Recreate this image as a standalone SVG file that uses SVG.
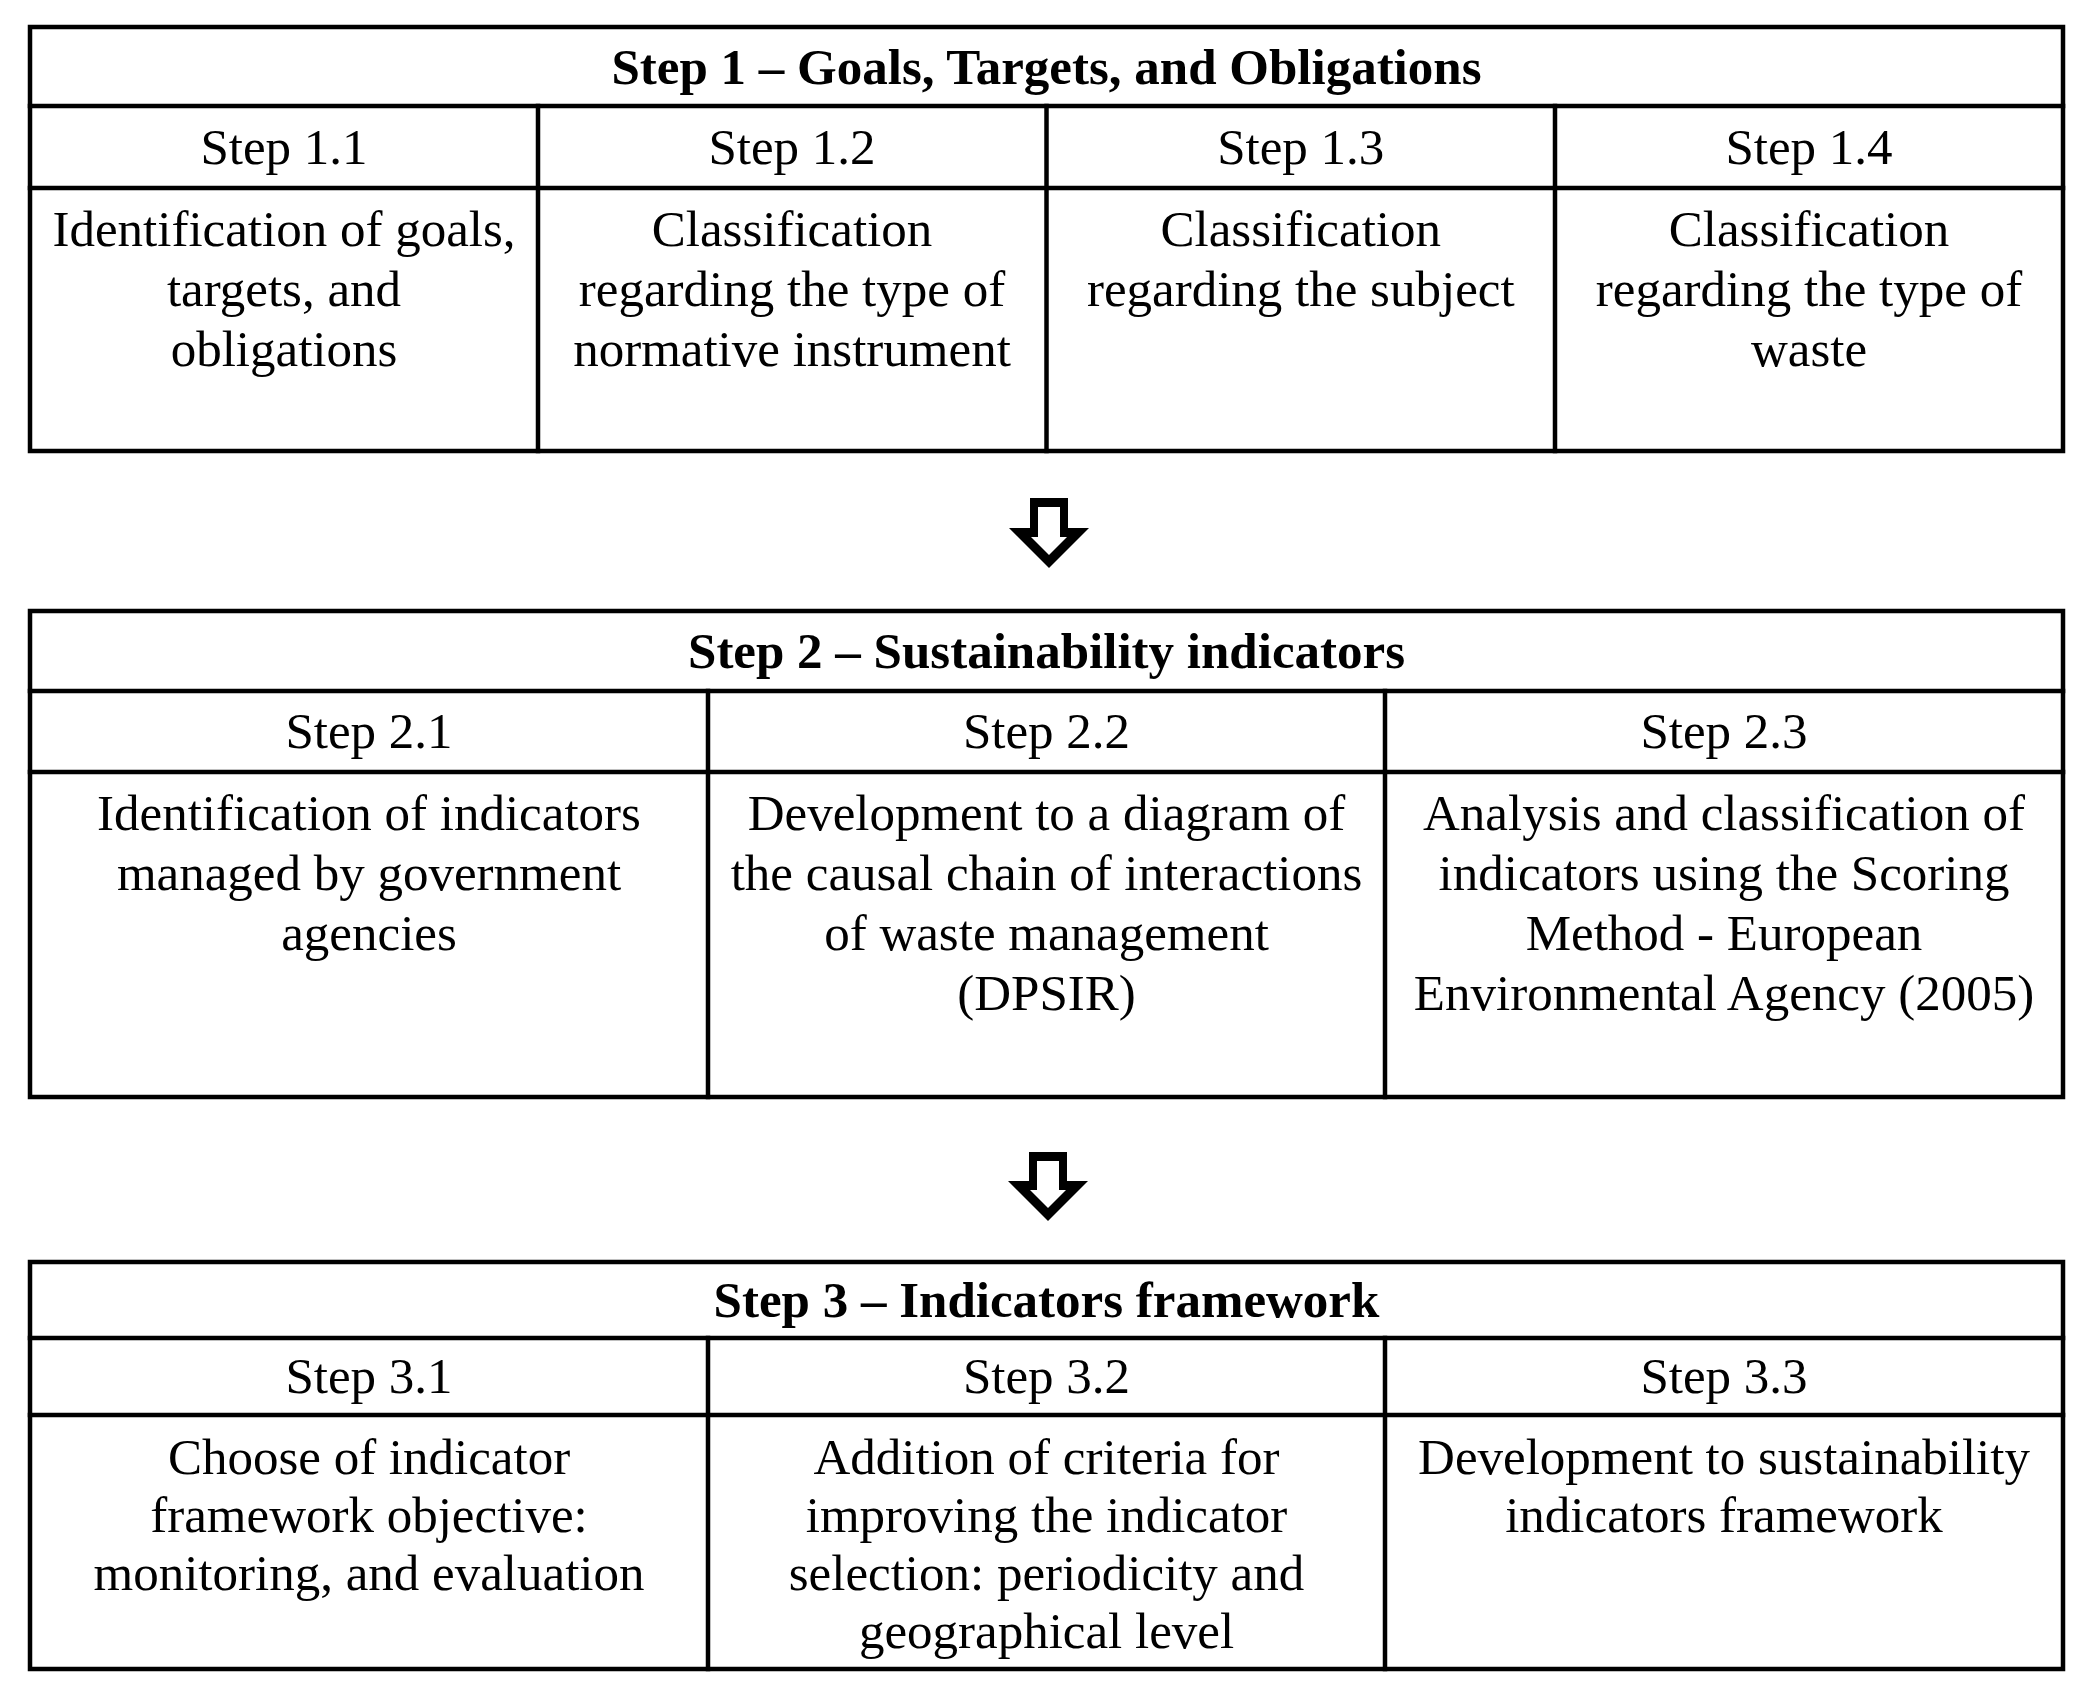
<svg xmlns="http://www.w3.org/2000/svg" width="2092" height="1704" viewBox="0 0 2092 1704">
<style>
.ln{stroke:#000;stroke-width:4.5;fill:none;stroke-linecap:square}
.t{font-family:"Liberation Serif","Times New Roman",serif;font-size:51px;fill:#000;text-anchor:middle}
.b{font-weight:bold}
.arrow{fill:#000;fill-rule:evenodd}
</style>
<rect width="2092" height="1704" fill="#fff"/>

<g id="step1">
  <rect class="ln" x="30" y="27" width="2033" height="424"/>
  <line class="ln" x1="30" y1="106" x2="2063" y2="106"/>
  <line class="ln" x1="30" y1="188" x2="2063" y2="188"/>
  <line class="ln" x1="538" y1="106" x2="538" y2="451"/>
  <line class="ln" x1="1046.5" y1="106" x2="1046.5" y2="451"/>
  <line class="ln" x1="1555" y1="106" x2="1555" y2="451"/>
  <text class="t b" x="1046.5" y="84">Step 1 – Goals, Targets, and Obligations</text>
</g>
<g id="step1-1">
  <text class="t" x="284" y="164">Step 1.1</text>
  <text class="t" x="284" y="246">Identification of goals,</text>
  <text class="t" x="284" y="306">targets, and</text>
  <text class="t" x="284" y="366">obligations</text>
</g>
<g id="step1-2">
  <text class="t" x="792" y="164">Step 1.2</text>
  <text class="t" x="792" y="246">Classification</text>
  <text class="t" x="792" y="306">regarding the type of</text>
  <text class="t" x="792" y="366">normative instrument</text>
</g>
<g id="step1-3">
  <text class="t" x="1300.75" y="164">Step 1.3</text>
  <text class="t" x="1300.75" y="246">Classification</text>
  <text class="t" x="1300.75" y="306">regarding the subject</text>
</g>
<g id="step1-4">
  <text class="t" x="1809" y="164">Step 1.4</text>
  <text class="t" x="1809" y="246">Classification</text>
  <text class="t" x="1809" y="306">regarding the type of</text>
  <text class="t" x="1809" y="366">waste</text>
</g>

<g id="step2">
  <rect class="ln" x="30" y="611" width="2033" height="486"/>
  <line class="ln" x1="30" y1="691" x2="2063" y2="691"/>
  <line class="ln" x1="30" y1="772" x2="2063" y2="772"/>
  <line class="ln" x1="708" y1="691" x2="708" y2="1097"/>
  <line class="ln" x1="1385" y1="691" x2="1385" y2="1097"/>
  <text class="t b" x="1046.5" y="668">Step 2 – Sustainability indicators</text>
</g>
<g id="step2-1">
  <text class="t" x="369" y="748">Step 2.1</text>
  <text class="t" x="369" y="830">Identification of indicators</text>
  <text class="t" x="369" y="890">managed by government</text>
  <text class="t" x="369" y="950">agencies</text>
</g>
<g id="step2-2">
  <text class="t" x="1046.5" y="748">Step 2.2</text>
  <text class="t" x="1046.5" y="830">Development to a diagram of</text>
  <text class="t" x="1046.5" y="890">the causal chain of interactions</text>
  <text class="t" x="1046.5" y="950">of waste management</text>
  <text class="t" x="1046.5" y="1010">(DPSIR)</text>
</g>
<g id="step2-3">
  <text class="t" x="1724" y="748">Step 2.3</text>
  <text class="t" x="1724" y="830">Analysis and classification of</text>
  <text class="t" x="1724" y="890">indicators using the Scoring</text>
  <text class="t" x="1724" y="950">Method - European</text>
  <text class="t" x="1724" y="1010">Environmental Agency (2005)</text>
</g>

<g id="step3">
  <rect class="ln" x="30" y="1262" width="2033" height="407"/>
  <line class="ln" x1="30" y1="1338" x2="2063" y2="1338"/>
  <line class="ln" x1="30" y1="1415" x2="2063" y2="1415"/>
  <line class="ln" x1="708" y1="1338" x2="708" y2="1669"/>
  <line class="ln" x1="1385" y1="1338" x2="1385" y2="1669"/>
  <text class="t b" x="1046.5" y="1317">Step 3 – Indicators framework</text>
</g>
<g id="step3-1">
  <text class="t" x="369" y="1393">Step 3.1</text>
  <text class="t" x="369" y="1474">Choose of indicator</text>
  <text class="t" x="369" y="1532">framework objective:</text>
  <text class="t" x="369" y="1590">monitoring, and evaluation</text>
</g>
<g id="step3-2">
  <text class="t" x="1046.5" y="1393">Step 3.2</text>
  <text class="t" x="1046.5" y="1474">Addition of criteria for</text>
  <text class="t" x="1046.5" y="1532">improving the indicator</text>
  <text class="t" x="1046.5" y="1590">selection: periodicity and</text>
  <text class="t" x="1046.5" y="1648">geographical level</text>
</g>
<g id="step3-3">
  <text class="t" x="1724" y="1393">Step 3.3</text>
  <text class="t" x="1724" y="1474">Development to sustainability</text>
  <text class="t" x="1724" y="1532">indicators framework</text>
</g>

<g id="connectors">
  <path class="arrow" d="M1030,498 H1068 V528 H1089 L1049,568 L1009,528 H1030 Z M1038,507 V537 H1031 L1049,555 L1067,537 H1060 V507 Z"/>
  <path class="arrow" d="M1029,1152 H1067 V1181 H1088 L1048,1221 L1008,1181 H1029 Z M1037,1161 V1190 H1030 L1048,1208 L1066,1190 H1059 V1161 Z"/>
</g>
</svg>
